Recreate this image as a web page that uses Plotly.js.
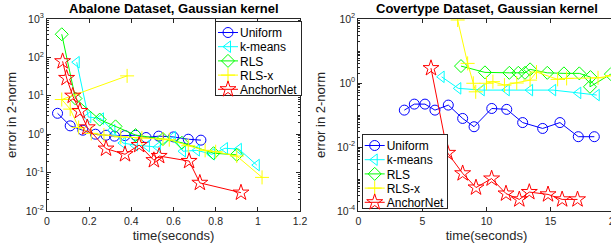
<!DOCTYPE html>
<html><head><meta charset="utf-8">
<script src="https://cdn.plot.ly/plotly-3.0.1.min.js"></script>
<style>html,body{margin:0;padding:0;overflow:hidden;background:#fff}</style>
</head><body><div id="chart" style="width:620px;height:251px"></div>
<script>
// ---------- data ----------
const seriesNames = ["Uniform", "k-means", "RLS", "RLS-x", "AnchorNet"];
const seriesColors = ["#0000ff", "#00ffff", "#00ff00", "#ffff00", "#ff0000"];
const seriesSymbols = ["circle-open", "triangle-left-open", "diamond-open", "cross-thin-open", "star-open"];

// Abalone (left)
const abaUniformX = [0.05, 0.11, 0.17, 0.23, 0.28, 0.32, 0.37, 0.42, 0.47, 0.53, 0.60, 0.67, 0.73];
const abaUniformY = [3.5, 1.65, 1.27, 1.0, 0.94, 0.89, 0.92, 0.94, 0.82, 0.89, 0.85, 0.74, 0.70];
const abaKmeansX = [0.141, 0.196, 0.256, 0.31, 0.36, 0.417, 0.474, 0.526, 0.597, 0.645, 0.711, 0.782, 0.844, 0.910, 0.995];
const abaKmeansY = [75, 2.8, 2.55, 1.27, 0.59, 0.52, 0.49, 0.46, 0.84, 0.36, 0.38, 0.30, 0.43, 0.41, 0.157];
const abaRlsX = [0.07, 0.135, 0.25, 0.325, 0.42, 0.55, 0.64, 0.79, 0.90];
const abaRlsY = [400, 8.5, 2.4, 1.6, 0.95, 0.75, 0.6, 0.32, 0.29];
const abaRlsxX = [0.38, 0.07, 0.11, 0.15, 0.21, 0.27, 0.35, 0.45, 0.55, 0.58, 0.67, 0.75, 0.80, 0.90, 1.02];
const abaRlsxY = [33, 8, 4.5, 1.5, 1.05, 0.95, 0.85, 0.8, 0.75, 0.72, 0.5, 0.38, 0.35, 0.27, 0.075];
const abaAnchorX = [0.074, 0.093, 0.122, 0.156, 0.191, 0.28, 0.37, 0.437, 0.507, 0.532, 0.674, 0.725, 0.92];
const abaAnchorY = [79, 29, 10, 4, 1.5, 0.42, 0.30, 0.52, 0.21, 0.27, 0.20, 0.054, 0.030];

// Covertype (right)
const covUniformX = [3.59, 4.37, 5.20, 5.98, 7.02, 8.14, 9.03, 10.41, 11.58, 12.82, 14.38, 15.73, 17.16, 18.41];
const covUniformY = [0.142, 0.219, 0.219, 0.142, 0.204, 0.078, 0.043, 0.16, 0.15, 0.058, 0.038, 0.058, 0.021, 0.021];
const covKmeansX = [6.5, 7.8, 9.63, 11.58, 13.4, 15.2, 17.16, 18.6];
const covKmeansY = [1.56, 0.68, 0.60, 0.60, 0.60, 0.60, 0.49, 0.42];
const covRlsX = [8.01, 9.88, 11.78, 12.48, 13.0, 13.4, 14.74, 16.04, 17.24, 18.11, 18.07, 19.7];
const covRlsY = [3.38, 2.15, 2.08, 2.08, 2.08, 2.67, 2.08, 2.0, 2.0, 1.53, 0.76, 1.9];
const covRlsxX = [7.75, 8.53, 8.97, 9.16, 10.0, 10.5, 11.4, 12.36, 13.4, 13.9, 15.55, 16.25, 18.7, 19.8];
const covRlsxY = [93, 4.1, 0.98, 0.53, 0.98, 1.1, 0.86, 1.0, 1.23, 2.2, 1.3, 1.39, 1.45, 1.7];
const covAnchorX = [5.67, 6.97, 8.14, 9.18, 10.4, 11.52, 12.56, 13.34, 14.8, 15.9, 17.1];
const covAnchorY = [2.9, 0.0065, 0.0015, 0.00054, 0.00103, 0.00035, 0.00023, 0.00039, 0.00033, 0.00023, 0.00023];

// ticks
const abaXTicks = [0, 0.2, 0.4, 0.6, 0.8, 1, 1.2];
const abaXTickText = ["0", "0.2", "0.4", "0.6", "0.8", "1", "1.2"];
const abaYTicks = [0.01, 0.1, 1, 10, 100, 1000];
const abaYTickText = ["10<sup>-2</sup>", "10<sup>-1</sup>", "10<sup>0</sup>", "10<sup>1</sup>", "10<sup>2</sup>", "10<sup>3</sup>"];
const covXTicks = [0, 5, 10, 15, 20];
const covXTickText = ["0", "5", "10", "15", "20"];
const covYTicks = [1e-4, 1e-2, 1, 100];
const covYTickText = ["10<sup>-4</sup>", "10<sup>-2</sup>", "10<sup>0</sup>", "10<sup>2</sup>"];

const titles = ["Abalone Dataset, Gaussian kernel", "Covertype Dataset, Gaussian kernel"];
const xTitle = "time(seconds)";
const yTitle = "error in 2-norm";

// ---------- build ----------
const W = 620, H = 251;
const leftDom = [47 / W, 300 / W];
const rightDom = [358.3 / W, 614.7 / W];
const yDom = [(H - 211) / H, (H - 19) / H];
const FONT = "Liberation Sans, Arial, sans-serif";

const abaData = [[abaUniformX, abaUniformY], [abaKmeansX, abaKmeansY], [abaRlsX, abaRlsY], [abaRlsxX, abaRlsxY], [abaAnchorX, abaAnchorY]];
const covData = [[covUniformX, covUniformY], [covKmeansX, covKmeansY], [covRlsX, covRlsY], [covRlsxX, covRlsxY], [covAnchorX, covAnchorY]];

const traces = [];
function addTraces(data, xa, ya, lg) {
  data.forEach((d, i) => {
    traces.push({
      x: d[0], y: d[1], name: seriesNames[i], type: "scatter", mode: "lines+markers",
      xaxis: xa, yaxis: ya, legend: lg, cliponaxis: true,
      line: {color: seriesColors[i], width: 1},
      marker: {symbol: seriesSymbols[i], size: i === 4 ? 12 : 10, color: seriesColors[i],
               line: {color: seriesColors[i], width: 1}}
    });
  });
}
addTraces(abaData, "x", "y", "legend");
addTraces(covData, "x2", "y2", "legend2");

const axColor = "#262626";
const tickFont = {family: FONT, size: 10.5, color: axColor};
const titleFont = {family: FONT, size: 13, color: axColor};
function ax(extra) {
  return Object.assign({
    showline: true, linecolor: axColor, linewidth: 1, mirror: "allticks",
    ticks: "inside", ticklen: 4, tickcolor: axColor, tickwidth: 1,
    showgrid: false, zeroline: false, tickfont: tickFont, ticklabeloverflow: "allow"
  }, extra);
}

const legendCommon = {xanchor: "left", yanchor: "top", bgcolor: "#fff", bordercolor: axColor, borderwidth: 1,
  font: {family: FONT, size: 12, color: "#000"}, itemwidth: 30, tracegroupgap: 0};

const layout = {
  width: W, height: H,
  margin: {l: 0, r: 0, t: 0, b: 0},
  paper_bgcolor: "#fff", plot_bgcolor: "#fff",
  font: {family: FONT, size: 11, color: axColor},
  xaxis: ax({domain: leftDom, anchor: "y", range: [0, 1.2], tickvals: abaXTicks, ticktext: abaXTickText,
    title: {text: xTitle, standoff: 5, font: titleFont}}),
  yaxis: ax({domain: yDom, anchor: "x", type: "log", range: [-2, 3], tickvals: abaYTicks, ticktext: abaYTickText,
    minor: {ticks: "inside", ticklen: 2, tickcolor: axColor, dtick: "D1"},
    title: {text: yTitle, standoff: 6, font: titleFont}}),
  xaxis2: ax({domain: rightDom, anchor: "y2", range: [0, 20], tickvals: covXTicks, ticktext: covXTickText,
    title: {text: xTitle, standoff: 5, font: titleFont}}),
  yaxis2: ax({domain: yDom, anchor: "x2", type: "log", range: [-4, 2], tickvals: covYTicks, ticktext: covYTickText,
    minor: {ticks: "inside", ticklen: 2, tickcolor: axColor, dtick: "D1"},
    title: {text: yTitle, standoff: 8, font: titleFont}}),
  legend: Object.assign({x: 215 / W, y: (H - 21) / H}, legendCommon),
  legend2: Object.assign({x: 361.7 / W, y: (H - 134) / H}, legendCommon),
  showlegend: true,
  annotations: [
    {text: "<b>" + titles[0] + "</b>", xref: "paper", yref: "paper", x: (leftDom[0] + leftDom[1]) / 2, y: (H - 9) / H,
     xanchor: "center", yanchor: "middle", showarrow: false, font: {family: FONT, size: 13, color: "#000"}},
    {text: "<b>" + titles[1] + "</b>", xref: "paper", yref: "paper", x: (rightDom[0] + rightDom[1]) / 2, y: (H - 9) / H,
     xanchor: "center", yanchor: "middle", showarrow: false, font: {family: FONT, size: 13, color: "#000"}}
  ]
};

// compact the library's legends (MATLAB-style tighter rows and shorter sample lines)
function compactLegends() {
  const STEP = 14.2, FIRST = 11.5, SHIFT = 16, BOXH = 74;
  document.querySelectorAll("g.legend, g.legend2").forEach(function (lg) {
    const items = Array.from(lg.querySelectorAll("g.traces"));
    if (items.length < 2) return;
    let maxLen = 0;
    items.forEach(function (it, i) {
      const m = /translate\(\s*([-\d.e]+)/.exec(it.getAttribute("transform") || "");
      const x0 = m ? parseFloat(m[1]) : 1;
      it.setAttribute("transform", "translate(" + x0 + "," + (FIRST + i * STEP) + ")");
      it.querySelectorAll("path.js-line").forEach(function (p) { p.setAttribute("d", "M2,0h20"); });
      it.querySelectorAll("path.scatterpts").forEach(function (p) { p.setAttribute("transform", "translate(12,0)"); });
      it.querySelectorAll("text.legendtext, text.legend2text").forEach(function (t) {
        t.setAttribute("transform", "translate(" + (-SHIFT) + ",0)");
        try { maxLen = Math.max(maxLen, t.getComputedTextLength()); } catch (e) {}
      });
    });
    const bg = lg.querySelector("rect.bg");
    if (bg) {
      bg.setAttribute("height", BOXH);
      const w = maxLen > 0 ? 1 + 40 - SHIFT + maxLen + 4 : parseFloat(bg.getAttribute("width")) - SHIFT;
      bg.setAttribute("width", w);
    }
  });
}

Plotly.newPlot("chart", traces, layout, {displayModeBar: false, staticPlot: true}).then(function () {
  try { compactLegends(); } catch (e) { console.error(e); }
});
</script></body></html>
